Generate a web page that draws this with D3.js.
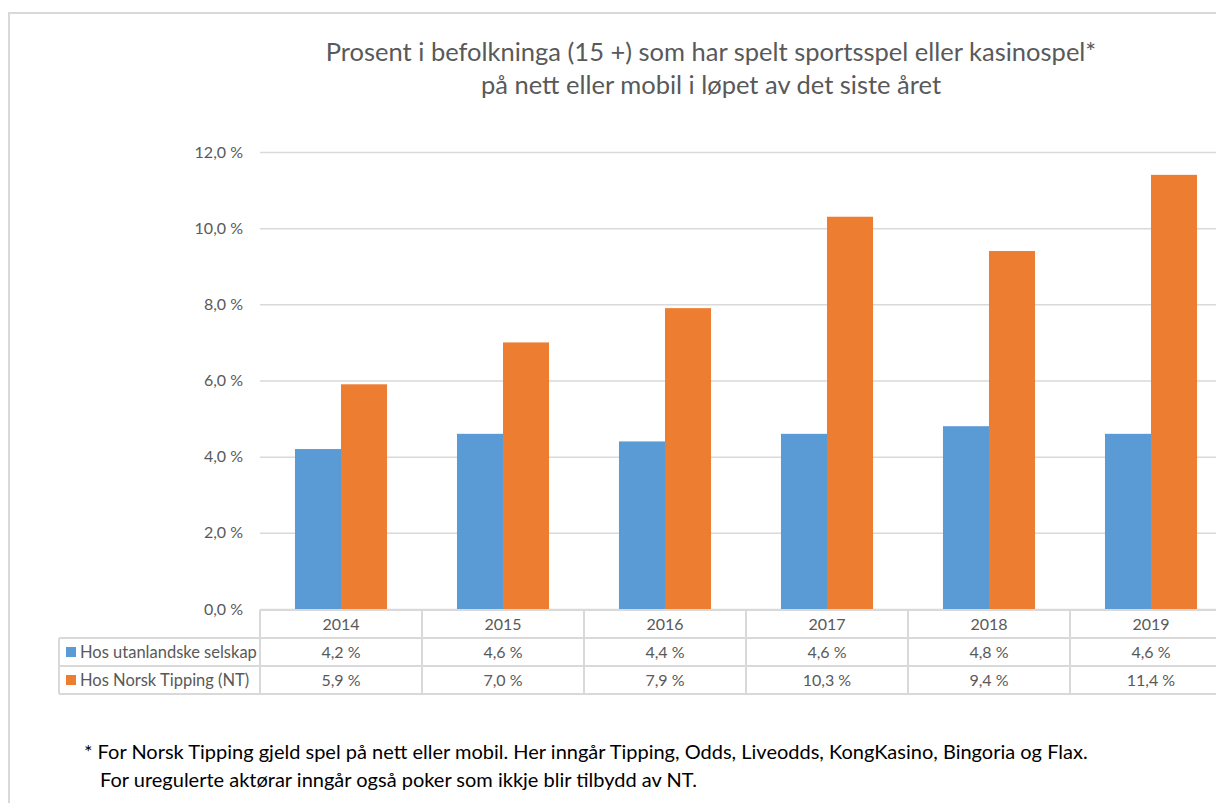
<!DOCTYPE html>
<html>
<head>
<meta charset="utf-8">
<script src="https://cdn.jsdelivr.net/npm/d3@7"></script>
<style>
  body { margin: 0; background: #fff; }
  svg { display: block; font-family: Lato, "Open Sans", sans-serif; }
</style>
</head>
<body>
<svg id="chart" width="1216" height="803"></svg>
<script>
// values
var years = ["2014", "2015", "2016", "2017", "2018", "2019"];
var seriesNames = ["Hos utanlandske selskap", "Hos Norsk Tipping (NT)"];
var utanlandske = [4.2, 4.6, 4.4, 4.6, 4.8, 4.6];
var norskTipping = [5.9, 7.0, 7.9, 10.3, 9.4, 11.4];
var yTicks = [0, 2, 4, 6, 8, 10, 12];
var colors = ["#5b9bd5", "#ed7d31"];

var series = [utanlandske, norskTipping];
var svg = d3.select("#chart");
var grey = "#595959", lineCol = "#d9d9d9";

// outer chart border (right side runs off the page)
svg.append("path")
  .attr("d", "M9,803 V13 H1216")
  .attr("fill", "none")
  .attr("stroke", lineCol)
  .attr("stroke-width", 2);

// title
var title = svg.append("text")
  .attr("text-anchor", "middle")
  .attr("fill", grey)
  .style("font-size", "25.5px");
title.append("tspan").attr("x", 711).attr("y", 61)
  .text("Prosent i befolkninga (15 +) som har spelt sportsspel eller kasinospel*");
title.append("tspan").attr("x", 711).attr("y", 94)
  .text("på nett eller mobil i løpet av det siste året");

var plotLeft = 260, plotTop = 152, plotBottom = 609;
var x = d3.scaleBand().domain(years).range([plotLeft, plotLeft + 162 * years.length]);
var y = d3.scaleLinear().domain([0, 12]).range([plotBottom, plotTop]);
var inner = d3.scaleBand().domain([0, 1]).range([0, x.bandwidth()]).paddingOuter(0.76);

// gridlines + y labels
var yAxis = d3.axisLeft(y)
  .tickValues(yTicks)
  .tickSize(-(1216 - plotLeft))
  .tickPadding(17)
  .tickFormat(function (d) { return d3.format(".1f")(d).replace(".", ",") + " %"; });

var gy = svg.append("g")
  .attr("transform", "translate(" + plotLeft + ",0)")
  .call(yAxis);
gy.select(".domain").remove();
gy.selectAll(".tick line").attr("stroke", lineCol).attr("stroke-width", 1.5);
gy.selectAll(".tick text")
  .attr("fill", grey)
  .style("font-size", "16px")
  .style("font-family", "Lato, sans-serif");

// bars
series.forEach(function (vals, s) {
  svg.append("g")
    .selectAll("rect")
    .data(vals)
    .enter()
    .append("rect")
    .attr("x", function (d, i) { return x(years[i]) + inner(s); })
    .attr("width", inner.bandwidth())
    .attr("y", function (d) { return y(d); })
    .attr("height", function (d) { return y(0) - y(d); })
    .attr("fill", colors[s]);
});

// data table under the plot
var rowH = 28;
var rowTops = [plotBottom + 1, plotBottom + 1 + rowH, plotBottom + 1 + 2 * rowH];
var tableBottom = rowTops[2] + rowH;
var tableLeft = 59;
var table = svg.append("g")
  .attr("stroke", lineCol)
  .attr("stroke-width", 2)
  .attr("fill", "none");

table.append("line").attr("x1", plotLeft).attr("x2", 1216).attr("y1", rowTops[0]).attr("y2", rowTops[0]);
[rowTops[1], rowTops[2], tableBottom].forEach(function (yy) {
  table.append("line").attr("x1", tableLeft).attr("x2", 1216).attr("y1", yy).attr("y2", yy);
});
table.append("line").attr("x1", tableLeft).attr("x2", tableLeft).attr("y1", rowTops[1]).attr("y2", tableBottom);
years.forEach(function (yr) {
  table.append("line").attr("x1", x(yr)).attr("x2", x(yr)).attr("y1", rowTops[0]).attr("y2", tableBottom);
});

var cellText = svg.append("g")
  .attr("fill", grey)
  .style("font-size", "16px")
  .attr("text-anchor", "middle");

years.forEach(function (yr, i) {
  cellText.append("text")
    .attr("x", x(yr) + x.bandwidth() / 2)
    .attr("y", rowTops[0] + rowH / 2 + 6)
    .text(yr);
  series.forEach(function (vals, s) {
    cellText.append("text")
      .attr("x", x(yr) + x.bandwidth() / 2)
      .attr("y", rowTops[s + 1] + rowH / 2 + 6)
      .text(d3.format(".1f")(vals[i]).replace(".", ",") + " %");
  });
});

// legend keys in the first column
seriesNames.forEach(function (name, s) {
  var cy = rowTops[s + 1] + rowH / 2;
  svg.append("rect")
    .attr("x", 66).attr("y", cy - 5)
    .attr("width", 10).attr("height", 10)
    .attr("fill", colors[s]);
  svg.append("text")
    .attr("x", 80).attr("y", cy + 6)
    .attr("fill", grey)
    .style("font-size", "16.5px")
    .text(name);
});

// footnote
var note = svg.append("text")
  .attr("fill", "#000")
  .style("font-size", "20px");
note.append("tspan").attr("x", 84).attr("y", 759)
  .text("* For Norsk Tipping gjeld spel på nett eller mobil. Her inngår Tipping, Odds, Liveodds, KongKasino, Bingoria og Flax.");
note.append("tspan").attr("x", 100).attr("y", 787)
  .text("For uregulerte aktørar inngår også poker som ikkje blir tilbydd av NT.");
</script>
</body>
</html>
